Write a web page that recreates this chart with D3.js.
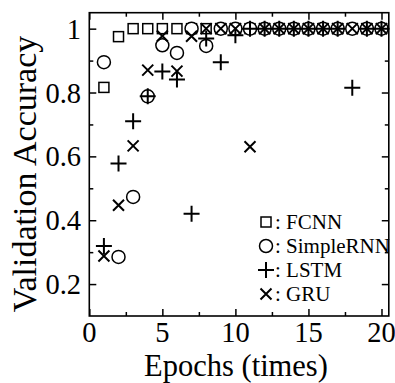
<!DOCTYPE html>
<html>
<head>
<meta charset="utf-8">
<script src="https://cdn.jsdelivr.net/npm/d3@7"></script>
<style>
  html, body { margin: 0; padding: 0; background: #fff; }
  svg { display: block; }
  text { font-family: "Liberation Serif", "Times New Roman", serif; fill: #000; }
</style>
</head>
<body>
<svg id="chart" width="395" height="383"></svg>
<script>
// Validation accuracy per training epoch for four model types
const epochs = d3.range(1, 21);
const fcnn = [0.816, 0.975, 1, 1, 1, 1, 1, 1, 1, 1, 1, 1, 1, 1, 1, 1, 1, 1, 1, 1];
const simpleRNN = [0.895, 0.285, 0.473, 0.788, 0.948, 0.924, 1, 0.946, 1, 1, 1, 1, 1, 1, 1, 1, 1, 1, 1, 1];
const lstm = [0.319, 0.578, 0.71, 0.788, 0.866, 0.841, 0.42, 0.969, 0.895, 0.979, 1, 1, 1, 1, 1, 1, 1, 0.815, 1, 1];
const gru = [0.288, 0.447, 0.633, 0.87, 0.977, 0.867, 0.976, 1, 1, 1, 0.63, 1, 1, 1, 1, 1, 1, 1, 1, 1];

const xTickValues = [0, 5, 10, 15, 20];
const xMinorValues = [2.5, 7.5, 12.5, 17.5];
const yTickValues = [0.2, 0.4, 0.6, 0.8, 1.0];
const yMinorValues = [0.3, 0.5, 0.7, 0.9];
const seriesNames = ["FCNN", "SimpleRNN", "LSTM", "GRU"];

const svg = d3.select("#chart");
const plotLeft = 89.3, plotRight = 388.8, plotTop = 12.7, plotBottom = 316;

const x = d3.scaleLinear().domain([0, 20.5]).range([plotLeft, plotRight]);
const y = d3.scaleLinear().domain([0.1, 1.05]).range([plotBottom, plotTop]);

// marker shapes
function drawSquare(g, cx, cy) {
  g.append("rect").attr("x", cx - 5).attr("y", cy - 5).attr("width", 10).attr("height", 10)
    .attr("fill", "none").attr("stroke", "#000").attr("stroke-width", 1.5);
}
function drawCircle(g, cx, cy) {
  g.append("circle").attr("cx", cx).attr("cy", cy).attr("r", 6.5)
    .attr("fill", "#fff").attr("stroke", "#000").attr("stroke-width", 1.5);
}
function drawPlus(g, cx, cy) {
  g.append("path").attr("d", `M${cx - 8},${cy}H${cx + 8}M${cx},${cy - 8}V${cy + 8}`)
    .attr("stroke", "#000").attr("stroke-width", 2).attr("fill", "none");
}
function drawCross(g, cx, cy) {
  const s = 5.5;
  g.append("path").attr("d", `M${cx - s},${cy - s}L${cx + s},${cy + s}M${cx - s},${cy + s}L${cx + s},${cy - s}`)
    .attr("stroke", "#000").attr("stroke-width", 2).attr("fill", "none");
}
const drawers = [drawSquare, drawCircle, drawPlus, drawCross];
const allSeries = [fcnn, simpleRNN, lstm, gru];

// axes: ticks point inward on every side
const axisG = svg.append("g");
const tickLen = 7, minorLen = 4;
function ticks(axisFn, scale, values, len, translate) {
  axisG.append("g").attr("transform", translate)
    .call(axisFn(scale).tickValues(values).tickSize(-len).tickFormat(""))
    .call(g => g.select(".domain").remove())
    .call(g => g.selectAll("line").attr("stroke", "#000").attr("stroke-width", 1.5));
}
ticks(d3.axisBottom, x, xTickValues, tickLen, `translate(0,${plotBottom})`);
ticks(d3.axisBottom, x, xMinorValues, minorLen, `translate(0,${plotBottom})`);
ticks(d3.axisTop, x, xTickValues, tickLen, `translate(0,${plotTop})`);
ticks(d3.axisTop, x, xMinorValues, minorLen, `translate(0,${plotTop})`);
ticks(d3.axisLeft, y, yTickValues, tickLen, `translate(${plotLeft},0)`);
ticks(d3.axisLeft, y, yMinorValues, minorLen, `translate(${plotLeft},0)`);
ticks(d3.axisRight, y, yTickValues, tickLen, `translate(${plotRight},0)`);
ticks(d3.axisRight, y, yMinorValues, minorLen, `translate(${plotRight},0)`);

// frame
svg.append("rect").attr("x", plotLeft).attr("y", plotTop)
  .attr("width", plotRight - plotLeft).attr("height", plotBottom - plotTop)
  .attr("fill", "none").attr("stroke", "#000").attr("stroke-width", 1.6);

// tick labels
svg.append("g").selectAll("text").data(xTickValues).join("text")
  .attr("x", d => x(d)).attr("y", 342).attr("text-anchor", "middle")
  .attr("font-size", 28.5).text(d => d);
svg.append("g").selectAll("text").data(yTickValues).join("text")
  .attr("x", 81).attr("y", d => y(d) + 10).attr("text-anchor", "end")
  .attr("font-size", 28.5).text(d => d === 1 ? "1" : d3.format(".1f")(d));

// axis titles
svg.append("text").attr("x", 236).attr("y", 376).attr("text-anchor", "middle")
  .attr("font-size", 30.5).text("Epochs (times)");
svg.append("text").attr("transform", "translate(36,174) rotate(-90)").attr("text-anchor", "middle")
  .attr("font-size", 34).text("Validation Accuracy");

// data points, drawn series by series
const plotG = svg.append("g");
allSeries.forEach((vals, i) => {
  const g = plotG.append("g");
  vals.forEach((v, j) => drawers[i](g, x(epochs[j]), y(v)));
});

// legend
const legendG = svg.append("g");
const legendRows = [222, 246, 270, 294];
seriesNames.forEach((name, i) => {
  drawers[i](legendG, 266, legendRows[i]);
  legendG.append("text").attr("x", 275).attr("y", legendRows[i] + 7)
    .attr("font-size", 21).text(": " + name);
});
</script>
</body>
</html>
